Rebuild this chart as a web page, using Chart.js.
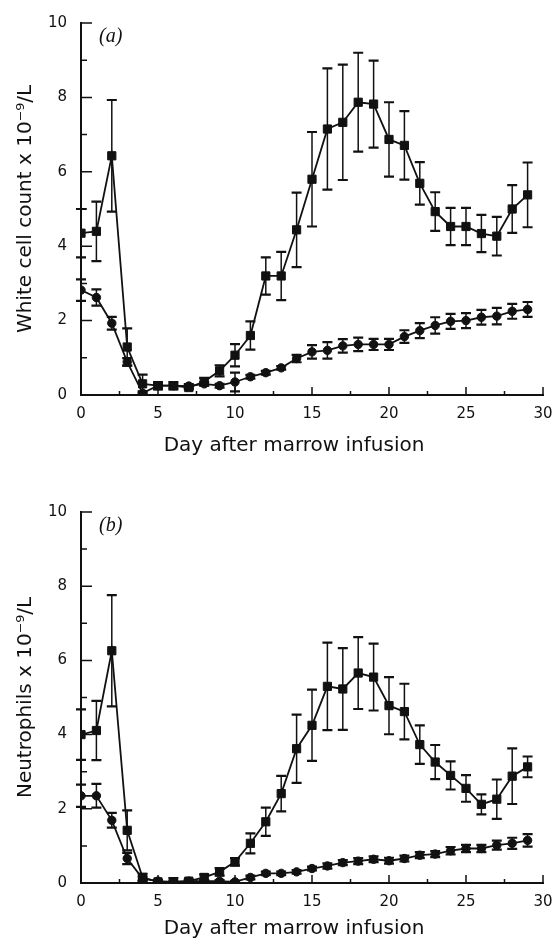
<!DOCTYPE html>
<html>
<head>
<meta charset="utf-8">
<script src="https://cdn.jsdelivr.net/npm/chart.js@4.4.1/dist/chart.umd.min.js"></script>
<style>
  body { margin: 0; background: #fff; }
  canvas { display: block; }
</style>
</head>
<body>
<canvas id="chartA" width="554" height="471"></canvas>
<canvas id="chartB" width="554" height="472"></canvas>
<script>
// day after marrow infusion
const days = [0, 1, 2, 3, 4, 5, 6, 7, 8, 9, 10, 11, 12, 13, 14, 15, 16, 17, 18, 19, 20, 21, 22, 23, 24, 25, 26, 27, 28, 29];

// (a) white cell count - squares
const wbcSquare = [4.35, 4.4, 6.43, 1.29, 0.3, 0.25, 0.25, 0.2, 0.36, 0.65, 1.07, 1.6, 3.2, 3.2, 4.44, 5.8, 7.15, 7.33, 7.87, 7.82, 6.87, 6.71, 5.69, 4.93, 4.53, 4.53, 4.34, 4.27, 5.0, 5.38];
const wbcSquareErr = [0.65, 0.8, 1.5, 0.5, 0.25, 0.1, 0.1, 0.05, 0.1, 0.15, 0.3, 0.38, 0.5, 0.65, 1.0, 1.27, 1.63, 1.55, 1.33, 1.17, 1.0, 0.92, 0.57, 0.52, 0.5, 0.5, 0.5, 0.52, 0.64, 0.87];
// (a) white cell count - circles
const wbcCircle = [2.82, 2.62, 1.93, 0.89, 0.05, 0.25, 0.25, 0.24, 0.3, 0.25, 0.35, 0.49, 0.6, 0.73, 0.98, 1.16, 1.2, 1.32, 1.36, 1.36, 1.36, 1.57, 1.73, 1.87, 1.98, 2.0, 2.09, 2.12, 2.25, 2.3];
const wbcCircleErr = [0.29, 0.22, 0.17, 0.1, 0.05, 0.05, 0.05, 0.05, 0.05, 0.05, 0.25, 0.05, 0.05, 0.05, 0.1, 0.18, 0.22, 0.18, 0.18, 0.15, 0.15, 0.17, 0.2, 0.22, 0.2, 0.2, 0.2, 0.22, 0.2, 0.2];

// (b) neutrophils - squares
const neutSquare = [4.0, 4.11, 6.26, 1.42, 0.15, 0.03, 0.03, 0.05, 0.15, 0.3, 0.57, 1.07, 1.65, 2.41, 3.62, 4.25, 5.3, 5.23, 5.66, 5.55, 4.78, 4.62, 3.73, 3.26, 2.9, 2.55, 2.12, 2.26, 2.88, 3.13];
const neutSquareErr = [0.68, 0.8, 1.5, 0.54, 0.1, 0.03, 0.03, 0.05, 0.08, 0.1, 0.1, 0.27, 0.38, 0.48, 0.92, 0.96, 1.18, 1.1, 0.97, 0.9, 0.77, 0.75, 0.52, 0.46, 0.38, 0.36, 0.27, 0.53, 0.75, 0.28];
// (b) neutrophils - circles
const neutCircle = [2.35, 2.35, 1.69, 0.66, 0.12, 0.05, 0.03, 0.05, 0.05, 0.05, 0.03, 0.15, 0.26, 0.26, 0.3, 0.39, 0.46, 0.55, 0.59, 0.64, 0.6, 0.66, 0.75, 0.78, 0.87, 0.93, 0.93, 1.02, 1.07, 1.15];
const neutCircleErr = [0.3, 0.32, 0.2, 0.15, 0.05, 0.03, 0.1, 0.03, 0.03, 0.03, 0.03, 0.05, 0.05, 0.05, 0.05, 0.05, 0.07, 0.07, 0.08, 0.08, 0.08, 0.08, 0.08, 0.08, 0.1, 0.1, 0.1, 0.12, 0.15, 0.17];

// axis ticks
const yTicks = [0, 2, 4, 6, 8, 10];
const yMinorTicks = [1, 3, 5, 7, 9];
const xTicks = [0, 5, 10, 15, 20, 25, 30];
const xMinorTicks = [2.5, 7.5, 12.5, 17.5, 22.5, 27.5];

const xTitle = 'Day after marrow infusion';
const ink = '#111';

// error bars drawn under the markers
const errorBars = {
  id: 'errorBars',
  beforeDatasetsDraw(chart) {
    const ctx = chart.ctx;
    const xs = chart.scales.x, ys = chart.scales.y;
    ctx.save();
    ctx.strokeStyle = ink;
    chart.data.datasets.forEach(ds => {
      if (!ds.errors) return;
      ds.data.forEach((p, i) => {
        const e = ds.errors[i];
        const x = xs.getPixelForValue(p.x);
        const y1 = ys.getPixelForValue(p.y + e);
        const y2 = ys.getPixelForValue(Math.max(0, p.y - e));
        ctx.lineWidth = 1.5;
        ctx.beginPath();
        ctx.moveTo(x, y1); ctx.lineTo(x, y2);
        ctx.stroke();
        ctx.lineWidth = 2.2;
        ctx.beginPath();
        ctx.moveTo(x - 5, y1); ctx.lineTo(x + 5, y1);
        ctx.moveTo(x - 5, y2); ctx.lineTo(x + 5, y2);
        ctx.stroke();
      });
    });
    ctx.restore();
  }
};

// inward tick marks, panel letter and x title
const decorations = {
  id: 'decorations',
  afterDraw(chart, args, opts) {
    const ctx = chart.ctx;
    const area = chart.chartArea;
    const xs = chart.scales.x, ys = chart.scales.y;
    ctx.save();
    ctx.strokeStyle = ink;
    ctx.lineWidth = 1.5;
    ctx.beginPath();
    yTicks.forEach(v => { const y = ys.getPixelForValue(v); ctx.moveTo(area.left, y); ctx.lineTo(area.left + 11, y); });
    yMinorTicks.forEach(v => { const y = ys.getPixelForValue(v); ctx.moveTo(area.left, y); ctx.lineTo(area.left + 6, y); });
    xTicks.forEach(v => { const x = xs.getPixelForValue(v); ctx.moveTo(x, area.bottom); ctx.lineTo(x, area.bottom - 8); });
    xMinorTicks.forEach(v => { const x = xs.getPixelForValue(v); ctx.moveTo(x, area.bottom); ctx.lineTo(x, area.bottom - 4); });
    ctx.stroke();

    ctx.fillStyle = ink;
    ctx.font = 'italic 20px "Liberation Serif", serif';
    ctx.textAlign = 'left';
    ctx.textBaseline = 'middle';
    ctx.fillText(opts.label, area.left + 18, area.top + 14);

    ctx.font = '20px "DejaVu Sans", sans-serif';
    ctx.textAlign = 'center';
    ctx.fillText(xTitle, 294, opts.titleY);
    ctx.restore();
  }
};

function makeChart(id, label, yTitle, sq, sqErr, ci, ciErr, top, xAxisHeight, titleY) {
  const tickFont = { family: '"DejaVu Sans", sans-serif', size: 15 };
  return new Chart(document.getElementById(id), {
    type: 'line',
    data: {
      datasets: [
        {
          data: days.map((d, i) => ({ x: d, y: sq[i] })),
          errors: sqErr,
          borderColor: ink, backgroundColor: ink, borderWidth: 1.8,
          pointStyle: 'rect', pointRadius: 5.8, pointBorderWidth: 1,
          pointBorderColor: ink, pointBackgroundColor: ink
        },
        {
          data: days.map((d, i) => ({ x: d, y: ci[i] })),
          errors: ciErr,
          borderColor: ink, backgroundColor: ink, borderWidth: 1.8,
          pointStyle: 'circle', pointRadius: 4.2, pointBorderWidth: 1,
          pointBorderColor: ink, pointBackgroundColor: ink
        }
      ]
    },
    options: {
      responsive: false,
      animation: false,
      layout: { padding: { top: top, right: 11, left: 0, bottom: 0 } },
      plugins: {
        legend: { display: false },
        tooltip: { enabled: false },
        decorations: { label: label, titleY: titleY }
      },
      scales: {
        x: {
          type: 'linear', min: 0, max: 30,
          afterFit(scale) {
            scale.height = xAxisHeight;
            scale.paddingLeft = 0;
            scale.paddingRight = 0;
          },
          grid: { display: false, drawTicks: false },
          border: { display: true, color: ink, width: 2 },
          ticks: { stepSize: 5, padding: 10, color: ink, font: tickFont, maxRotation: 0 }
        },
        y: {
          min: 0, max: 10,
          afterFit(scale) { scale.width = 81; },
          grid: { display: false, drawTicks: false },
          border: { display: true, color: ink, width: 2 },
          ticks: { stepSize: 2, padding: 14, color: ink, font: tickFont },
          title: {
            display: true, text: yTitle, color: ink,
            font: { family: '"DejaVu Sans", sans-serif', size: 20 },
            padding: { top: 14, bottom: 0 }
          }
        }
      }
    },
    plugins: [errorBars, decorations]
  });
}

makeChart('chartA', '(a)', 'White cell count x 10\u207B\u2079/L',
  wbcSquare, wbcSquareErr, wbcCircle, wbcCircleErr, 20, 76, 446);
makeChart('chartB', '(b)', 'Neutrophils x 10\u207B\u2079/L',
  neutSquare, neutSquareErr, neutCircle, neutCircleErr, 41, 60, 458);
</script>
</body>
</html>
